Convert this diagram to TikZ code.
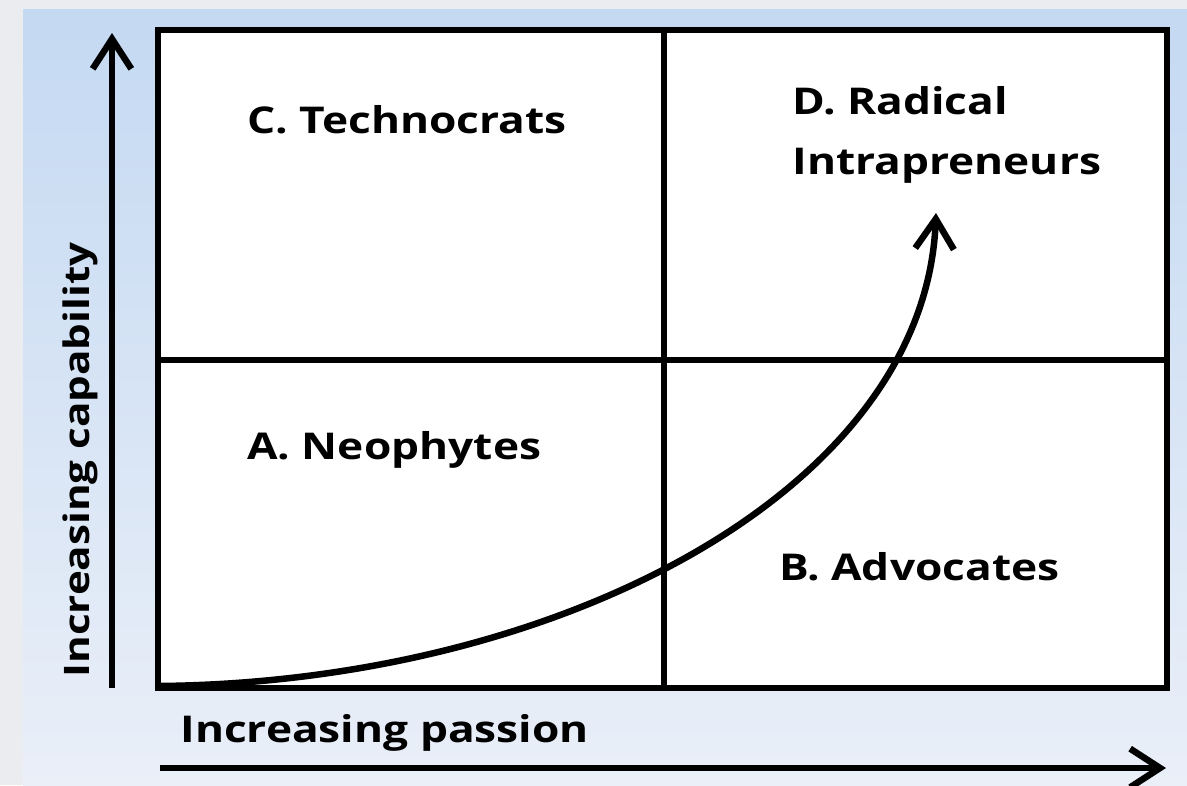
\documentclass[tikz,border=0pt]{standalone}
\usepackage{fontspec}
\setmainfont[FakeStretch=1.2]{Open Sans}
\usepackage{tikz}
\usetikzlibrary{arrows.meta, positioning}

\definecolor{framegray}{HTML}{EBECF0}
\definecolor{topblue}{HTML}{C4D9F2}
\definecolor{lowblue}{HTML}{EAEFF8}

\tikzset{
  quadlabel/.style={anchor=base west, font=\fontsize{21}{34}\selectfont\bfseries, align=left, inner sep=0pt},
  axislabel/.style={font=\fontsize{21}{25}\selectfont\bfseries, inner sep=0pt},
  gridline/.style={line width=3.7pt},
  axisarrow/.style={line width=3.7pt, -{Straight Barb[length=17pt, width=22pt, line width=3.7pt]}}
}

\begin{document}
\begin{tikzpicture}[x=0.02cm, y=-0.02cm]
\useasboundingbox (0,0) rectangle (1187,785);
\fill[framegray] (0,0) rectangle (1187,785);
\shade[top color=topblue, bottom color=lowblue] (23,9) rectangle (1187,785);

% Quadrant box
\fill[white] (158,30) rectangle (1167,688);
\draw[gridline] (158,30) rectangle (1167,688);
\draw[gridline] (664,30) -- (664,688);
\draw[gridline] (158,360) -- (1167,360);

% Quadrant labels
\node[quadlabel] (techno) at (247,133) {C. Technocrats};
\node[quadlabel] (radical) at (792,174) {D. Radical\\Intrapreneurs};
\node[quadlabel] (neo) at (247,459) {A. Neophytes};
\node[quadlabel] (advoc) at (779,580) {B. Advocates};

% Axes
\coordinate (ybase) at (112,688);
\coordinate (ytop) at (112,33);
\coordinate (xbase) at (160,768);
\coordinate (xtip) at (1166,768);
\draw[axisarrow] (ybase) -- (ytop);
\draw[axisarrow] (xbase) -- (xtip);
\node[axislabel, anchor=base west] (passion) at (180,742) {Increasing passion};
\node[axislabel, rotate=90, font=\fontsize{20}{24}\selectfont\bfseries] (capab) at (80,460) {Increasing capability};

% Growth curve
\coordinate (start) at (160,686);
\coordinate (goal) at (936,213);
\draw[axisarrow] (start) .. controls (560,682) and (925,490) .. (goal);
\end{tikzpicture}
\end{document}
